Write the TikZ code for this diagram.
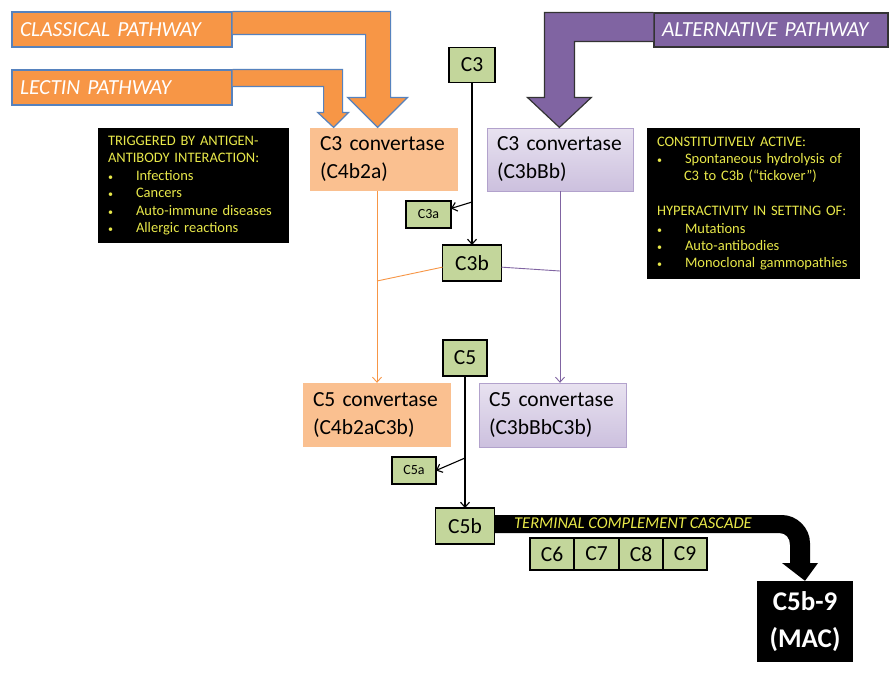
\documentclass[tikz,border=0pt]{standalone}
\usepackage{fontspec}
\setmainfont{Carlito}
\usetikzlibrary{positioning,arrows.meta,calc}

\definecolor{barorange}{RGB}{247,150,70}
\definecolor{edgeblue}{RGB}{86,130,190}
\definecolor{convorange}{RGB}{250,192,144}
\definecolor{barpurple}{RGB}{128,100,162}
\definecolor{convpurpletop}{RGB}{232,226,240}
\definecolor{convpurplebot}{RGB}{204,192,222}
\definecolor{edgepurple}{RGB}{178,162,204}
\definecolor{compgreen}{RGB}{195,214,155}
\definecolor{noteyellow}{RGB}{232,232,74}

\newcommand{\bul}[1]{\makebox[28pt][l]{\fontsize{10}{10}\selectfont\textbullet}#1}

\tikzset{
  pathbar/.style={minimum height=35pt, text width=204pt, inner xsep=8pt, inner ysep=0pt, align=left, text=white, font=\fontsize{21.5}{24}\selectfont\itshape},
  convbox/.style={minimum height=63pt, inner xsep=10pt, inner ysep=0pt, align=left, font=\fontsize{21.5}{28}\selectfont},
  comp/.style={draw=black, line width=1.6pt, fill=compgreen, inner sep=0pt, outer sep=0pt, font=\fontsize{21.5}{24}\selectfont},
  smallcomp/.style={comp, font=\fontsize{14}{16}\selectfont},
  note/.style={fill=black, text=noteyellow, inner xsep=10pt, inner ysep=0pt, align=left, font=\fontsize{14.5}{17.4}\selectfont},
  flow/.style={draw=black, line width=1.1pt, -{Straight Barb[length=5pt,width=9pt]}},
}

\begin{document}
\begin{tikzpicture}[x=1pt,y=-1pt]
\useasboundingbox[fill=white] (0,0) rectangle (896,672);

% pathway bars
\node[pathbar, fill=barorange, draw=edgeblue, line width=1.2pt] (classical) at (122,29.5) {CLASSICAL PATHWAY};
\node[pathbar, fill=barorange, draw=edgeblue, line width=1.2pt] (lectin) at (122,87.5) {LECTIN PATHWAY};
\node[pathbar, fill=barpurple, draw=black!80, line width=1.2pt, minimum height=34pt, text width=218pt] (alternative) at (771,30) {ALTERNATIVE PATHWAY};

% convertases
\node[convbox, fill=convorange, text width=128pt] (c3cl) at (384,159.5) {C3 convertase\\(C4b2a)};
\node[convbox, top color=convpurpletop, bottom color=convpurplebot, draw=edgepurple, text width=126pt] (c3alt) at (560,159.5) {C3 convertase\\(C3bBb)};
\node[convbox, fill=convorange, text width=128pt, minimum height=64pt] (c5cl) at (377,415) {C5 convertase\\(C4b2aC3b)};
\node[convbox, top color=convpurpletop, bottom color=convpurplebot, draw=edgepurple, text width=127pt, minimum height=64pt] (c5alt) at (552.5,415) {C5 convertase\\(C3bBbC3b)};

% big pathway arrows
\filldraw[fill=barorange, draw=edgeblue, line width=1.2pt, line join=miter] (classical.north east) -- ++(158,0) -- ++(0,86) -- ++(17,0) -- ++(-30,30) -- ++(-30,-30) -- ++(18,0) -- ++(0,-63) -- ++(-133,0);
\filldraw[fill=barorange, draw=edgeblue, line width=1.2pt, line join=miter] (lectin.north east) -- ++(110,0) -- ++(0,43) -- ++(6,0) -- ++(-15,15) -- ++(-16,-15) -- ++(6,0) -- ++(0,-26) -- ++(-91,0);
\filldraw[fill=barpurple, draw=black!80, line width=1.2pt, line join=miter] (alternative.north west) -- ++(-109,0) -- ++(0,85) -- ++(-17,0) -- ++(32,30) -- ++(32,-30) -- ++(-17,0) -- ++(0,-56) -- ++(79,0);

% notes
\node[note, minimum width=191pt, minimum height=115pt, text width=171pt] (trigger) at (193.5,185.5)
  {TRIGGERED BY ANTIGEN-\\ANTIBODY INTERACTION:\\\bul{Infections}\\\bul{Cancers}\\\bul{Auto-immune diseases}\\\bul{Allergic reactions}};
\node[note, minimum width=213pt, minimum height=151pt, text width=193pt] (active) at (753.5,203.5)
  {CONSTITUTIVELY ACTIVE:\\\bul{Spontaneous hydrolysis of}\\\hspace*{27pt}C3 to C3b (“tickover”)\\[17.4pt]HYPERACTIVITY IN SETTING OF:\\\bul{Mutations}\\\bul{Auto-antibodies}\\\bul{Monoclonal gammopathies}};

% components
\node[comp, minimum width=46pt, minimum height=35pt] (c3) at (472,65) {C3};
\node[smallcomp, minimum width=45pt, minimum height=27pt] (c3a) at (428.5,214.5) {C3a};
\node[comp, minimum width=59pt, minimum height=36pt] (c3b) at (472,263) {C3b};
\node[comp, minimum width=44pt, minimum height=36pt] (c5) at (465,358) {C5};
\node[smallcomp, minimum width=44pt, minimum height=27pt] (c5a) at (414,470.5) {C5a};
\node[comp, minimum width=59pt, minimum height=36pt] (c5b) at (465,526) {C5b};

\coordinate (c3split) at (472,202);
\coordinate (c5split) at (465,458);
\coordinate (clmerge) at (377,281);
\coordinate (altmerge) at (560,271);

\draw[flow] (c3) -- (c3b);
\draw[flow] (c3split) -- (c3a.15);
\draw[flow] (c5) -- (c5b);
\draw[flow] (c5split) -- (c5a.east);

\draw[barorange, line width=0.9pt, -{Straight Barb[length=5pt,width=9pt]}] (c3cl.south -| c5cl.north) -- (c5cl.north);
\draw[barorange, line width=0.9pt] (c3b.188) -- (clmerge);
\draw[barpurple, line width=0.9pt, -{Straight Barb[length=5pt,width=9pt]}] (c3alt.south) -- (c3alt.south |- c5alt.north);
\draw[barpurple, line width=0.9pt] (c3b.352) -- (altmerge);

% terminal complement cascade
\node[fill=black, text=white, minimum width=96pt, minimum height=81pt, inner sep=0pt, align=center, font=\fontsize{27}{37}\selectfont\bfseries] (mac) at (805,621.5) {C5b-9\\(MAC)};
\fill[black] (c5b.east |- 0,515) -- (782,515) .. controls (797,515) and (810,528) .. (810,543) -- (810,563) -- (818,563) -- (mac.north) -- (782,563) -- (790,563) -- (790,545) .. controls (790,538) and (786,533) .. (779,533) -- (c5b.east |- 0,533) -- cycle;
\node[text=noteyellow, font=\fontsize{16.5}{18}\selectfont\itshape, inner sep=0pt] (cascade) at (633,523.5) {TERMINAL COMPLEMENT CASCADE};

\node[comp, minimum width=44pt, minimum height=32pt] (c6) at (552,554) {C6};
\node[comp, minimum width=45pt, minimum height=32pt, right=0pt of c6] (c7) {C7};
\node[comp, minimum width=44pt, minimum height=32pt, right=0pt of c7] (c8) {C8};
\node[comp, minimum width=44pt, minimum height=32pt, right=0pt of c8] (c9) {C9};
\end{tikzpicture}
\end{document}
